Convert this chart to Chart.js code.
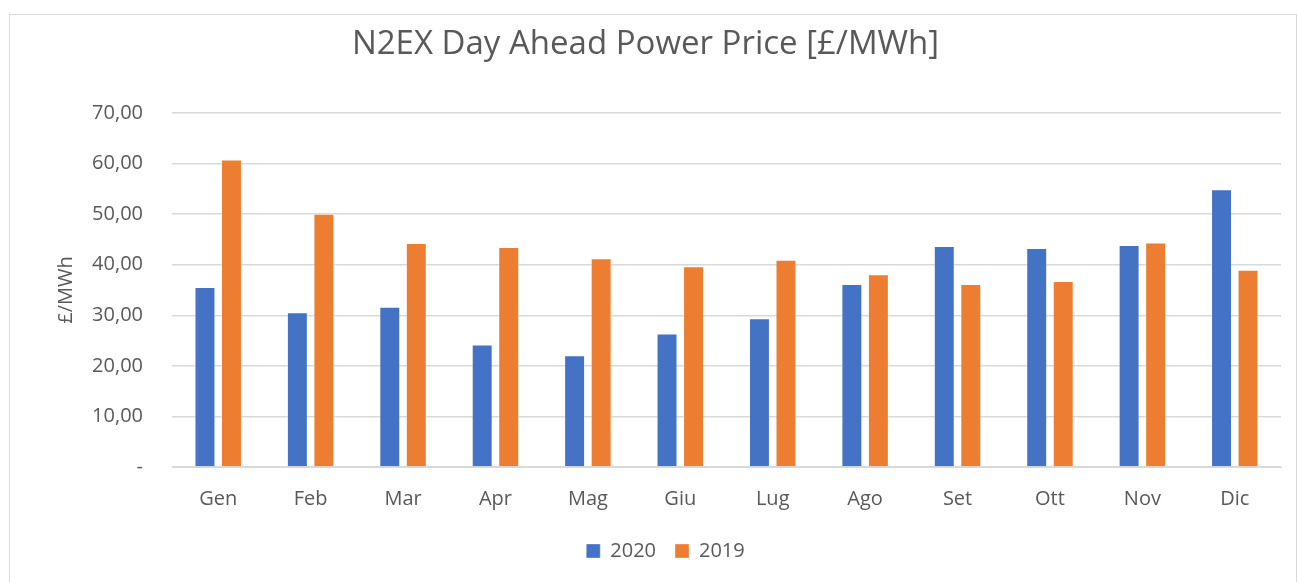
<!DOCTYPE html>
<html>
<head>
<meta charset="utf-8">
<script src="https://cdn.jsdelivr.net/npm/chart.js@4.4.1/dist/chart.umd.min.js"></script>
<style>
  html, body { margin: 0; padding: 0; background: #ffffff; }
  #frame { position: absolute; left: 9px; top: 14px; width: 1286px; height: 570px; border: 1px solid #d9d9d9; background: #fff; }
  #wrap { position: absolute; left: 0; top: 0; width: 1286px; height: 567px; }
</style>
</head>
<body>
<div id="frame"><div id="wrap"><canvas id="c" width="1286" height="567"></canvas></div></div>
<script>
const categories = ["Gen", "Feb", "Mar", "Apr", "Mag", "Giu", "Lug", "Ago", "Set", "Ott", "Nov", "Dic"];
const values2020 = [35.6, 30.6, 31.7, 24.2, 22.1, 26.4, 29.4, 36.2, 43.7, 43.3, 43.9, 54.9];
const values2019 = [60.8, 50.1, 44.3, 43.5, 41.3, 39.7, 41.0, 38.1, 36.2, 36.8, 44.4, 39.0];
const seriesNames = ["2020", "2019"];
const titleText = "N2EX Day Ahead Power Price [£/MWh]";
const yAxisTitle = "£/MWh";

const FONT = "'Open Sans', Lato, sans-serif";
const TXT = "#595959";

const shiftLegend = {
  id: 'shiftLegend',
  afterLayout(chart) {
    const lg = chart.legend;
    if (lg) { lg.left += 20; lg.right += 20; }
  }
};

new Chart(document.getElementById('c'), {
  type: 'bar',
  data: {
    labels: categories,
    datasets: [
      { label: seriesNames[0], data: values2020, backgroundColor: '#4472C4', borderColor: 'rgba(255,255,255,0.35)', borderWidth: 1 },
      { label: seriesNames[1], data: values2019, backgroundColor: '#ED7D31', borderColor: 'rgba(255,255,255,0.35)', borderWidth: 1 }
    ]
  },
  plugins: [shiftLegend],
  options: {
    responsive: false,
    animation: false,
    devicePixelRatio: 1,
    layout: { padding: { left: 0, right: 15, top: 0, bottom: 11 } },
    datasets: { bar: { categoryPercentage: 0.574, barPercentage: 0.79 } },
    plugins: {
      title: {
        display: true,
        text: titleText,
        color: TXT,
        font: { family: FONT, size: 33, weight: 'normal' },
        padding: { top: 10, bottom: 48.4 }
      },
      legend: {
        display: true,
        position: 'bottom',
        labels: {
          color: TXT,
          font: { family: FONT, size: 20 },
          boxWidth: 14,
          boxHeight: 14,
          padding: 19
        }
      },
      tooltip: { enabled: false }
    },
    scales: {
      x: {
        grid: { display: false, drawTicks: false },
        border: { display: true, color: '#d9d9d9', width: 1 },
        ticks: { color: TXT, font: { family: FONT, size: 20 }, padding: 20, maxRotation: 0 },
        afterFit(scale) { scale.height = 55; }
      },
      y: {
        min: 0,
        max: 70,
        grid: { color: '#d9d9d9', lineWidth: 1.5, drawTicks: false },
        border: { display: false },
        ticks: {
          stepSize: 10,
          color: TXT,
          font: { family: FONT, size: 20 },
          padding: 29,
          callback: (v) => v === 0 ? '-' : v.toFixed(2).replace('.', ',')
        },
        title: {
          display: true,
          text: yAxisTitle,
          color: TXT,
          font: { family: FONT, size: 20 },
          padding: { top: 44, bottom: 0 }
        },
        afterFit(scale) { scale.width = 162; }
      }
    }
  }
});
</script>
</body>
</html>
